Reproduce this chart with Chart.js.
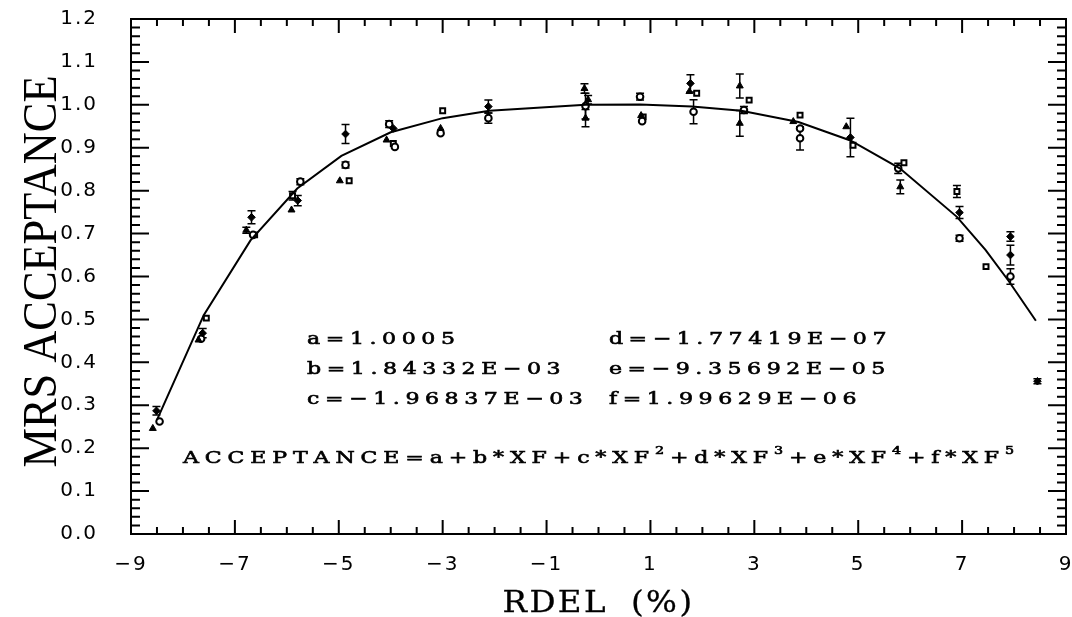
<!DOCTYPE html>
<html><head><meta charset="utf-8">
<script src="https://cdn.jsdelivr.net/npm/chart.js@4.4.1/dist/chart.umd.min.js"></script>
<style>html,body{margin:0;padding:0;background:#fff;}</style>
</head><body>
<canvas id="c" width="1072" height="617"></canvas>
<script>
// ---- tick labels ----
const xTicks = [-9, -7, -5, -3, -1, 1, 3, 5, 7, 9];
const yTicks = [0, 0.1, 0.2, 0.3, 0.4, 0.5, 0.6, 0.7, 0.8, 0.9, 1.0, 1.1, 1.2];

// ---- fitted curve ----
const curveX = [-8.5, -7.6, -6.7, -5.8, -4.95, -4.0, -3.0, -2.1, -0.25, 0.8, 1.8, 2.75, 3.85, 4.85, 5.8, 6.9, 7.45, 7.9, 8.42];
const curveY = [0.266, 0.510, 0.684, 0.805, 0.881, 0.936, 0.969, 0.986, 1.000, 1.001, 0.996, 0.986, 0.960, 0.917, 0.852, 0.739, 0.662, 0.589, 0.497];

// ---- triangles ----
const triX = [-8.58, -7.70, -6.78, -5.91, -4.98, -4.08, -3.04, -0.27, -0.20, -0.25, 0.82, 1.75, 2.72, 2.72, 3.75, 4.77, 5.81];
const triY = [0.246, 0.452, 0.708, 0.755, 0.823, 0.918, 0.945, 1.038, 1.012, 0.969, 0.975, 1.031, 1.044, 0.957, 0.961, 0.949, 0.809];
const triErr = [0, 0, 0.007, 0, 0, 0, 0, 0.011, 0.010, 0.020, 0, 0, 0.028, 0.030, 0, 0, 0.016];

// ---- diamonds ----
const diaX = [-8.51, -7.62, -6.68, -5.79, -4.87, -3.95, -2.12, 1.77, 4.85, 6.95, 7.93, 7.93, 8.45];
const diaY = [0.287, 0.468, 0.738, 0.777, 0.932, 0.945, 0.996, 1.050, 0.924, 0.749, 0.693, 0.650, 0.356];
const diaErr = [0.010, 0.011, 0.015, 0.012, 0.022, 0, 0.015, 0.020, 0.045, 0.014, 0.011, 0.023, 0.006];

// ---- circles ----
const cirX = [-8.45, -7.65, -6.65, -5.74, -4.87, -4.03, -3.92, -3.04, -2.12, -0.25, 0.80, 0.84, 1.83, 2.80, 3.88, 3.88, 5.77, 6.95, 7.93];
const cirY = [0.262, 0.455, 0.697, 0.821, 0.860, 0.955, 0.902, 0.934, 0.969, 0.997, 1.019, 0.962, 0.984, 0.988, 0.945, 0.922, 0.852, 0.689, 0.600];
const cirErr = [0, 0, 0, 0.007, 0.007, 0.008, 0, 0, 0.012, 0.030, 0.008, 0, 0.028, 0.008, 0, 0.027, 0.012, 0.007, 0.018];

// ---- squares ----
const sqX = [-7.55, -6.62, -5.89, -4.80, -3.95, -3.00, 0.86, 1.89, 2.90, 3.88, 4.90, 5.88, 6.90, 7.46];
const sqY = [0.503, 0.697, 0.788, 0.823, 0.910, 0.986, 0.972, 1.027, 1.011, 0.976, 0.906, 0.865, 0.798, 0.623];
const sqErr = [0, 0, 0.010, 0, 0, 0, 0, 0, 0, 0, 0, 0, 0.014, 0];

// ---- texts ----
const xTitle = 'RDEL  (%)';
const yTitle = 'MRS ACCEPTANCE';
const coefLeft = ['a=1.0005', 'b=1.84332E\u221203', 'c=\u22121.96837E\u221203'];
const coefRight = ['d=\u22121.77419E\u221207', 'e=\u22129.35692E\u221205', 'f=1.99629E\u221206'];
const eqParts = [['ACCEPTANCE=a+b*XF+c*XF', 0], ['2', 1], ['+d*XF', 0], ['3', 1], ['+e*XF', 0], ['4', 1], ['+f*XF', 0], ['5', 1]];

const pts = (xs, ys, es) => xs.map((x, i) => ({ x, y: ys[i], e: es ? es[i] : 0 }));
const SERIF = '"DejaVu Serif"';

function measureRun(ctx, parts, sx) {
  let w = 0, n = 0;
  parts.forEach(p => {
    ctx.font = p.size + 'px ' + SERIF;
    for (const ch of p.t) { w += ctx.measureText(ch).width * sx; n++; }
  });
  return { w, n };
}
function drawRun(ctx, parts, x0, yb, sx, gap, stroke) {
  let cx = x0;
  parts.forEach(p => {
    ctx.font = p.size + 'px ' + SERIF;
    for (const ch of p.t) {
      const w = ctx.measureText(ch).width;
      ctx.save();
      ctx.translate(cx, yb + (p.dy || 0));
      ctx.scale(sx, 1);
      ctx.fillText(ch, 0, 0);
      if (stroke) { ctx.lineWidth = stroke; ctx.strokeText(ch, 0, 0); }
      ctx.restore();
      cx += w * sx + (ch === ' ' ? gap * 0.5 : gap);
    }
  });
}
function gapFor(ctx, parts, sx, target) {
  const m = measureRun(ctx, parts, sx);
  return (target - m.w) / (m.n - 1);
}

const framePlugin = {
  id: 'frame',
  beforeDraw(chart) { chart.ctx.letterSpacing = '2px'; },
  beforeDatasetsDraw(chart) {
    const { ctx, scales: { x, y } } = chart;
    ctx.letterSpacing = '0px';
    ctx.save();
    ctx.strokeStyle = '#000';
    ctx.lineWidth = 1.5;
    chart.data.datasets.forEach(ds => {
      if (!ds.errorBars) return;
      ds.data.forEach(p => {
        if (!p.e) return;
        const px = x.getPixelForValue(p.x);
        const y1 = y.getPixelForValue(p.y + p.e), y2 = y.getPixelForValue(p.y - p.e);
        ctx.beginPath();
        ctx.moveTo(px, y1); ctx.lineTo(px, y2);
        ctx.moveTo(px - 4, y1); ctx.lineTo(px + 4, y1);
        ctx.moveTo(px - 4, y2); ctx.lineTo(px + 4, y2);
        ctx.stroke();
      });
    });
    ctx.restore();
  },
  afterDraw(chart) {
    const { ctx, chartArea: a, scales: { x, y } } = chart;
    ctx.save();
    ctx.letterSpacing = '0px';
    ctx.strokeStyle = '#000';
    ctx.fillStyle = '#000';
    ctx.lineWidth = 2;
    ctx.strokeRect(a.left, a.top, a.right - a.left, a.bottom - a.top);
    ctx.beginPath();
    for (let k = 0; k <= 60; k++) {
      const py = y.getPixelForValue(k / 50);
      const len = k % 5 === 0 ? 18 : 9;
      ctx.moveTo(a.left, py); ctx.lineTo(a.left + len, py);
      ctx.moveTo(a.right, py); ctx.lineTo(a.right - len, py);
    }
    for (let k = 0; k <= 36; k++) {
      const px = x.getPixelForValue(-9 + k * 0.5);
      const len = k % 4 === 0 ? 14 : 7;
      ctx.moveTo(px, a.bottom); ctx.lineTo(px, a.bottom - len);
      ctx.moveTo(px, a.top); ctx.lineTo(px, a.top + len);
    }
    ctx.stroke();

    ctx.textBaseline = 'alphabetic';
    ctx.textAlign = 'left';
    const sx = 1.3, FS = 17;
    const cParts = [{ t: coefLeft[2], size: FS }];
    const targetC = x.getPixelForValue(-0.3) - x.getPixelForValue(-5.61);
    const gap = gapFor(ctx, cParts, sx, targetC);
    const rows = [0.443, 0.373, 0.303];
    rows.forEach((rv, i) => {
      drawRun(ctx, [{ t: coefLeft[i], size: FS }], x.getPixelForValue(-5.61), y.getPixelForValue(rv), sx, gap, 0.6);
      drawRun(ctx, [{ t: coefRight[i], size: FS }], x.getPixelForValue(0.20), y.getPixelForValue(rv), sx, gap, 0.6);
    });
    const eq = eqParts.map(([t, sup]) => ({ t, size: sup ? 11 : FS, dy: sup ? -9 : 0 }));
    const eqW = x.getPixelForValue(8.0) - x.getPixelForValue(-8.0);
    const eqGap = gapFor(ctx, eq, sx, eqW);
    drawRun(ctx, eq, x.getPixelForValue(-8.0), y.getPixelForValue(0.165), sx, eqGap, 0.6);

    // x title
    const xt = [{ t: xTitle, size: 29 }];
    const xtW = 192;
    const xtGap = gapFor(ctx, xt, 1.12, xtW);
    drawRun(ctx, xt, x.getPixelForValue(0) - xtW / 2, a.bottom + 78, 1.12, xtGap, 0.3);

    // y title (rotated, condensed)
    ctx.save();
    ctx.font = '48px "Liberation Serif"';
    const yw = ctx.measureText(yTitle).width;
    const yLen = 392;
    ctx.translate(56, (a.top + a.bottom) / 2 - 5);
    ctx.rotate(-Math.PI / 2);
    ctx.scale(yLen / yw, 1);
    ctx.textAlign = 'center';
    ctx.fillText(yTitle, 0, 0);
    ctx.restore();
    ctx.restore();
  }
};

const minus = v => String(v).replace('-', '\u2212');

new Chart(document.getElementById('c'), {
  type: 'scatter',
  data: {
    datasets: [
      { label: 'fit', data: pts(curveX, curveY), showLine: true, borderColor: '#000', borderWidth: 2, pointRadius: 0, tension: 0, fill: false },
      { label: 'tri', data: pts(triX, triY, triErr), errorBars: true, pointStyle: 'triangle', pointRadius: 4, backgroundColor: '#000', borderColor: '#000', borderWidth: 1 },
      { label: 'dia', data: pts(diaX, diaY, diaErr), errorBars: true, pointStyle: 'rectRot', pointRadius: 3.8, backgroundColor: '#000', borderColor: '#000', borderWidth: 1 },
      { label: 'cir', data: pts(cirX, cirY, cirErr), errorBars: true, pointStyle: 'circle', pointRadius: 3.3, backgroundColor: '#fff', borderColor: '#000', borderWidth: 2 },
      { label: 'sq', data: pts(sqX, sqY, sqErr), errorBars: true, pointStyle: 'rect', pointRadius: 3.5, backgroundColor: '#fff', borderColor: '#000', borderWidth: 2 }
    ]
  },
  options: {
    responsive: false,
    animation: false,
    devicePixelRatio: 1,
    layout: { padding: { top: 19, right: 6, left: 0, bottom: 0 } },
    plugins: { legend: { display: false }, tooltip: { enabled: false } },
    scales: {
      x: {
        type: 'linear', min: -9, max: 9,
        afterBuildTicks: s => { s.ticks = xTicks.map(v => ({ value: v })); },
        afterFit: s => { s.height = 83; s.paddingLeft = 0; s.paddingRight = 0; },
        grid: { display: false, drawTicks: false },
        border: { display: false },
        ticks: { callback: v => minus(v), color: '#000', padding: 19, maxRotation: 0, autoSkip: false, font: { family: '"DejaVu Sans"', size: 20 } }
      },
      y: {
        type: 'linear', min: 0, max: 1.2,
        afterBuildTicks: s => { s.ticks = yTicks.map(v => ({ value: v })); },
        afterFit: s => { s.width = 131; s.paddingTop = 0; s.paddingBottom = 0; },
        grid: { display: false, drawTicks: false },
        border: { display: false },
        ticks: { callback: v => v.toFixed(1), color: '#000', padding: 33, autoSkip: false, font: { family: '"DejaVu Sans"', size: 20 } }
      }
    }
  },
  plugins: [framePlugin]
});
</script>
</body></html>
